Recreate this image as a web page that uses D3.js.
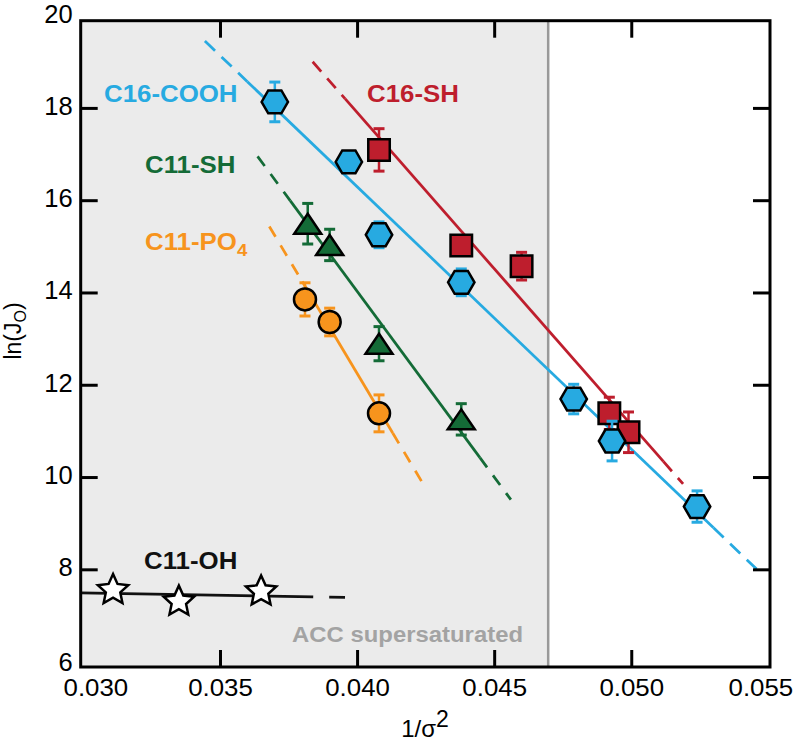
<!DOCTYPE html>
<html><head><meta charset="utf-8">
<script src="https://cdn.jsdelivr.net/npm/d3@7"></script>
<style>body{margin:0;background:#fff} svg{display:block} text{font-family:"Liberation Sans",Arial,sans-serif}</style>
</head><body><svg id="c" width="796" height="741"></svg>
<script>
// ---- axes ----
const xTickValues=[0.030,0.035,0.040,0.045,0.050,0.055];
const xTickLabels=["0.030","0.035","0.040","0.045","0.050","0.055"];
const yTickValues=[6,8,10,12,14,16,18,20];
const xDomain=[0.02992,0.05506];
const yDomain=[5.883,19.89];
const accBoundary=0.04697;

// ---- series: C16-COOH (hexagons) ----
const coohX=[0.0370,0.0397,0.0408,0.0438,0.0479,0.0493,0.0524];
const coohY=[18.13,16.83,15.25,14.22,11.69,10.78,9.36];
const coohErr=[0.43,0.15,0.28,0.29,0.32,0.43,0.34];
const coohFit=[[0.03445,19.45],[0.05457,8.006]];
const coohSolid=[0.0360,0.0530];
// ---- C16-SH (squares) ----
const c16shX=[0.0408,0.0438,0.0460,0.0492,0.0499];
const c16shY=[17.09,15.02,14.57,11.38,10.97];
const c16shErr=[0.46,0.20,0.30,0.35,0.44];
const c16shFit=[[0.03838,19.0],[0.05189,9.85]];
const c16shSolid=[0.03956,0.05117];
// ---- C11-SH (triangles) ----
const c11shX=[0.0382,0.0390,0.0408,0.0438];
const c11shY=[15.49,15.03,12.89,11.25];
const c11shErr=[0.44,0.34,0.37,0.34];
const c11shFit=[[0.03637,16.95],[0.04561,9.51]];
const c11shSolid=[0.03756,0.04448];
// ---- C11-PO4 (circles) ----
const po4X=[0.0381,0.0390,0.0408];
const po4Y=[13.85,13.36,11.38];
const po4Err=[0.36,0.30,0.40];
const po4Fit=[[0.0368,15.43],[0.04248,9.78]];
const po4Solid=[0.0380,0.0413];
// ---- C11-OH (stars) ----
const ohX=[0.0311,0.0335,0.0365];
const ohY=[7.55,7.30,7.52];
const ohFit=[[0.02992,7.49],[0.03956,7.39]];
const ohSolid=[0.02992,0.0384];

const BLUE="#27aae1",RED="#be1e2d",GREEN="#146b37",ORANGE="#f7941d";

const svg=d3.select('#c');
const x=d3.scaleLinear().domain(xDomain).range([80.7,770]);
const y=d3.scaleLinear().domain(yDomain).range([667,20.7]);

// background region
svg.append('rect').attr('x',x(xDomain[0])).attr('y',y(yDomain[1]))
  .attr('width',x(accBoundary)-x(xDomain[0])).attr('height',y(yDomain[0])-y(yDomain[1]))
  .attr('fill','#ebebeb');
svg.append('line').attr('x1',x(accBoundary)).attr('x2',x(accBoundary))
  .attr('y1',y(yDomain[1])).attr('y2',y(yDomain[0])).attr('stroke','#999').attr('stroke-width',2.5);
const acc=svg.append('text').attr('font-weight','bold').attr('font-size',23).attr('fill','#a3a3a3')
  .attr('text-anchor','end').text('ACC supersaturated');
{const w=acc.node().getComputedTextLength();const k=231/w;
 acc.attr('transform',`translate(523,641.5) scale(${k},1)`);}

// fit lines
function fitY(fit,xv){const [a,b]=fit;return a[1]+(b[1]-a[1])*(xv-a[0])/(b[0]-a[0]);}
function seg(fit,x0,x1,color,dash,width){
  if(x1<=x0) return;
  svg.append('line').attr('x1',x(x0)).attr('y1',y(fitY(fit,x0))).attr('x2',x(x1)).attr('y2',y(fitY(fit,x1)))
   .attr('stroke',color).attr('stroke-width',width||2.75).attr('stroke-dasharray',dash||null);
}
function drawFit(fit,solid,color,dash){
  seg(fit,fit[0][0],solid[0],color,dash);
  seg(fit,solid[0],solid[1],color,null);
  seg(fit,solid[1],fit[1][0],color,dash);
}
drawFit(c16shFit,c16shSolid,RED,"13,9");
drawFit(coohFit,coohSolid,BLUE,"14,9");
drawFit(c11shFit,c11shSolid,GREEN,"12,10");
drawFit(po4Fit,po4Solid,ORANGE,"12,10");
seg(ohFit,ohSolid[0],ohSolid[1],"#111","",2.75);
seg(ohFit,ohSolid[1],ohFit[1][0],"#111","0,16,16,40",2.75);

// markers
function hexPath(r){const p=d3.path();for(let i=0;i<6;i++){const a=i*Math.PI/3;const px=r*Math.cos(a),py=r*Math.sin(a);i?p.lineTo(px,py):p.moveTo(px,py);}p.closePath();return p.toString();}
function triPath(w,h){return `M0,${-h/2}L${w/2},${h/2}L${-w/2},${h/2}Z`;}
function sqPath(s){return `M${-s/2},${-s/2}h${s}v${s}h${-s}Z`;}
function circPath(r){const p=d3.path();p.arc(0,0,r,0,2*Math.PI);p.closePath();return p.toString();}
function starPath(ro,ri){const p=d3.path();for(let i=0;i<10;i++){const r=i%2?ri:ro;const a=-Math.PI/2+i*Math.PI/5;const px=r*Math.cos(a),py=r*Math.sin(a);i?p.lineTo(px,py):p.moveTo(px,py);}p.closePath();return p.toString();}

function drawSeries(xs,ys,errs,color,shape){
  const g=svg.append('g');
  if(errs){
    xs.forEach((xv,i)=>{
      const e=errs[i],cx=x(xv);
      g.append('line').attr('x1',cx).attr('x2',cx).attr('y1',y(ys[i]-e)).attr('y2',y(ys[i]+e))
        .attr('stroke',color).attr('stroke-width',2.5);
      [ys[i]-e,ys[i]+e].forEach(v=>g.append('line').attr('x1',cx-5.5).attr('x2',cx+5.5)
        .attr('y1',y(v)).attr('y2',y(v)).attr('stroke',color).attr('stroke-width',3));
    });
  }
  xs.forEach((xv,i)=>{
    g.append('path').attr('d',shape).attr('transform',`translate(${x(xv)},${y(ys[i])})`)
      .attr('fill',color).attr('stroke','#000').attr('stroke-width',2.5).attr('stroke-linejoin','miter');
  });
}
drawSeries(c16shX,c16shY,c16shErr,RED,sqPath(21.5));
drawSeries(c11shX,c11shY,c11shErr,GREEN,triPath(27,20));
drawSeries(po4X,po4Y,po4Err,ORANGE,circPath(11));
drawSeries(coohX,coohY,coohErr,BLUE,hexPath(13.2));
drawSeries(ohX,ohY,null,"#fff",starPath(16,7.6));

// series labels
function label(txt,color,x0,base,sub){
  const t=svg.append('text').attr('font-weight','bold').attr('font-size',23.5).attr('fill',color)
    .attr('transform',`translate(${x0},${base}) scale(1.1,1)`);
  t.append('tspan').text(txt);
  if(sub) t.append('tspan').attr('font-size',17).attr('dy',6).text(sub);
}
label('C16-COOH',BLUE,104,102);
label('C16-SH',RED,367,102);
label('C11-SH',GREEN,145,173);
label('C11-PO',ORANGE,145,250,'4');
label('C11-OH','#111',144,569);

// frame
svg.append('rect').attr('x',x(xDomain[0])).attr('y',y(yDomain[1]))
  .attr('width',x(xDomain[1])-x(xDomain[0])).attr('height',y(yDomain[0])-y(yDomain[1]))
  .attr('fill','none').attr('stroke','#000').attr('stroke-width',3);

// tick marks (inward)
const innerX=xTickValues.slice(1,-1), innerY=yTickValues.slice(1,-1);
const tk=17;
svg.append('g').attr('transform',`translate(0,${y(yDomain[0])})`)
  .call(d3.axisBottom(x).tickValues(innerX).tickSize(-tk).tickFormat(''));
svg.append('g').attr('transform',`translate(0,${y(yDomain[1])})`)
  .call(d3.axisTop(x).tickValues(innerX).tickSize(-tk).tickFormat(''));
svg.append('g').attr('transform',`translate(${x(xDomain[0])},0)`)
  .call(d3.axisLeft(y).tickValues(innerY).tickSize(-tk).tickFormat(''));
svg.append('g').attr('transform',`translate(${x(xDomain[1])},0)`)
  .call(d3.axisRight(y).tickValues(innerY).tickSize(-tk).tickFormat(''));
svg.selectAll('.domain').remove();
svg.selectAll('.tick line').attr('stroke','#000').attr('stroke-width',3);

// tick labels (corner labels nudged inward as in the original)
const xLabelShift=[12.5,0,0,0,0,-8];
const xl=svg.append('g').attr('transform',`translate(0,${y(yDomain[0])})`)
  .call(d3.axisBottom(x).tickValues(xTickValues).tickSize(0).tickFormat((d,i)=>xTickLabels[i]));
xl.select('.domain').remove();
xl.selectAll('text').attr('font-size',23.5).attr('fill','#000').attr('font-family','"Liberation Sans",Arial,sans-serif')
  .attr('y',29.5).attr('dy',0).attr('transform',(d,i)=>`translate(${xLabelShift[i]},0) scale(1.1,1)`);
const yl=svg.append('g').attr('transform',`translate(${x(xDomain[0])},0)`)
  .call(d3.axisLeft(y).tickValues(yTickValues).tickSize(0).tickFormat(d3.format('d')));
yl.select('.domain').remove();
yl.selectAll('text').attr('font-size',25.5).attr('fill','#000').attr('font-family','"Liberation Sans",Arial,sans-serif')
  .attr('x',-8).attr('dy',(d)=>d===6?9:6.5);

// axis titles
const xt=svg.append('text').attr('font-size',24).attr('text-anchor','middle')
  .attr('transform','translate(425,737)');
xt.append('tspan').text('1/σ');
xt.append('tspan').attr('font-size',23).attr('dy',-10).text('2');
const yt=svg.append('text').attr('font-size',23).attr('text-anchor','middle')
  .attr('transform','translate(21,331) rotate(-90)');
yt.append('tspan').text('ln(J');
yt.append('tspan').attr('font-size',16).attr('dy',5).text('O');
yt.append('tspan').attr('dy',-5).text(')');
</script></body></html>
